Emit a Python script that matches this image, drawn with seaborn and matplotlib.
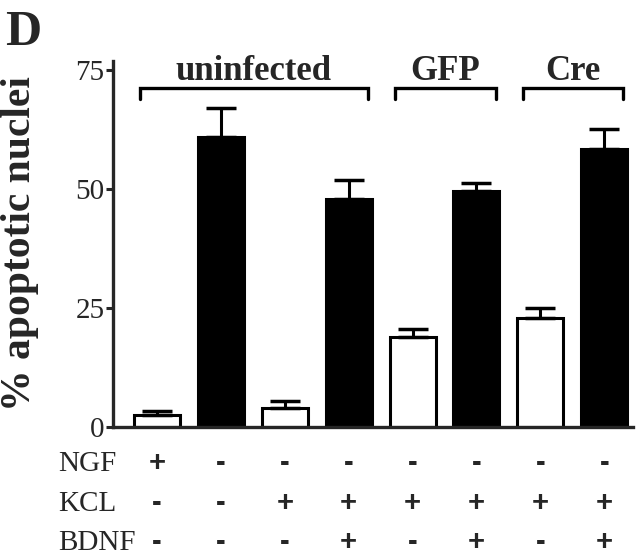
import numpy as np
import pandas as pd
import seaborn as sns
import matplotlib.pyplot as plt
from matplotlib import transforms

# values
conditions = ["c1", "c2", "c3", "c4", "c5", "c6", "c7", "c8"]
apoptotic = [2.5, 61.0, 3.9, 48.0, 19.0, 49.6, 22.8, 58.5]
sem = [0.9, 6.0, 1.6, 3.9, 1.5, 1.6, 2.1, 4.2]
fill = ["open", "filled", "open", "filled", "open", "filled", "open", "filled"]

ngf = ["+", "-", "-", "-", "-", "-", "-", "-"]
kcl = ["-", "-", "+", "+", "+", "+", "+", "+"]
bdnf = ["-", "-", "-", "+", "-", "+", "-", "+"]

groups = ["uninfected", "GFP", "Cre"]
group_spans = [(0, 3), (4, 5), (6, 7)]

sns.set_style("ticks")
plt.rcParams["font.family"] = ["Liberation Serif", "DejaVu Serif"]

df = pd.DataFrame({"cond": conditions, "pct": apoptotic, "fill": fill})

fig = plt.figure(figsize=(6.4, 5.57), dpi=100)
ax = fig.add_axes([113 / 640, 130 / 557, 520 / 640, 366.5 / 557])

sns.barplot(data=df, x="cond", y="pct", hue="fill", dodge=False,
            palette={"open": "white", "filled": "black"},
            edgecolor="black", linewidth=2.2, width=0.72,
            legend=False, ax=ax)

x = np.arange(len(conditions))
ax.errorbar(x, apoptotic, yerr=[np.zeros(len(sem)), sem], fmt="none",
            ecolor="black", elinewidth=2.2, capsize=11, capthick=2.5)

ax.set_ylim(0, 77)
ax.set_xlim(-0.69, 7.45)
ax.set_yticks([0, 25, 50, 75])
ax.set_xticks([])
ax.set_xlabel("")
ax.set_ylabel("% apoptotic nuclei", fontsize=30, fontweight="bold")
ax.yaxis.set_label_coords(-0.142, 0.5)
ax.tick_params(axis="y", labelsize=21, width=2.2, length=5, pad=1)
sns.despine(ax=ax)
for s in ("left", "bottom"):
    ax.spines[s].set_linewidth(2.4)
ax.spines["bottom"].set_zorder(5)

# group brackets
for name, (a, b) in zip(groups, group_spans):
    x0, x1 = a - 0.27, b + 0.30
    ax.plot([x0, x0, x1, x1], [68.9, 71.2, 71.2, 68.9], color="black",
            lw=2.4, clip_on=False, solid_joinstyle="miter")
    ax.text((x0 + x1) / 2, 72.9, name, ha="center", va="baseline",
            fontsize=25, fontweight="bold")

# treatment table below the axis (baselines in figure pixels from top)
trans = transforms.blended_transform_factory(ax.transData, fig.transFigure)
rows = [("NGF", ngf, 471), ("KCL", kcl, 511), ("BDNF", bdnf, 550)]
for label, signs, py in rows:
    yy = 1 - py / 557
    fig.text(58 / 640, yy, label, ha="left", va="baseline", fontsize=21)
    for xi, s in zip(x, signs):
        ax.text(xi, yy, s, transform=trans, ha="center", va="baseline",
                fontsize=21, fontweight="bold", family="Liberation Sans",
                clip_on=False)

fig.text(5 / 640, 1 - 45 / 557, "D", fontsize=36, fontweight="bold",
         ha="left", va="baseline")

fig.savefig("out.png", dpi=100)
